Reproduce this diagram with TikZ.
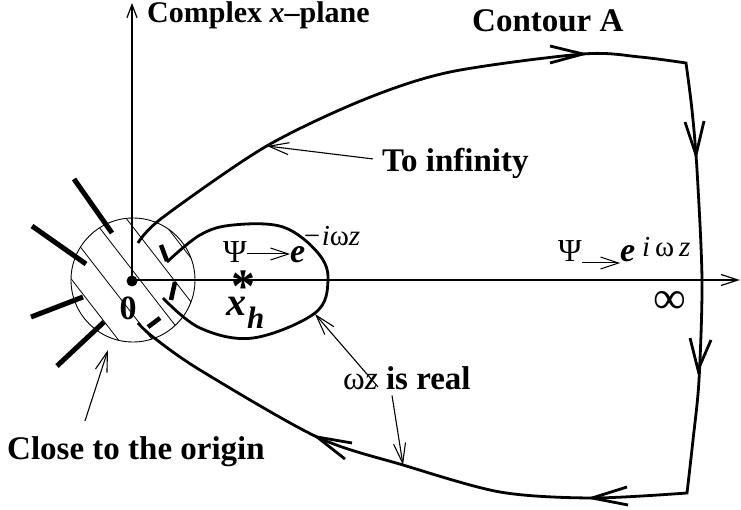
\documentclass[tikz,border=0pt]{standalone}
\usepackage{fontspec}
\setmainfont{Liberation Serif}
\usetikzlibrary{arrows.meta}
\begin{document}
\begin{tikzpicture}[x=1pt,y=-1pt,
  contour/.style={line width=2.8pt, line join=miter},
  vhead/.style={line width=2.8pt, line join=miter, line cap=butt},
  ray/.style={line width=5pt},
  tickbar/.style={line width=4.5pt},
  axis/.style={line width=1.2pt},
  hatch/.style={line width=0.8pt},
  ptr/.style={line width=1.1pt, -{Straight Barb[length=20pt,width=12pt,line width=1.1pt]}},
  smallptr/.style={line width=1pt, -{Straight Barb[length=18pt,width=12pt,line width=1pt]}},
  lab/.style={font=\fontsize{33}{36}\selectfont\bfseries, inner sep=0pt, anchor=base west},
  txt/.style={inner sep=0pt, anchor=base west},
]
\useasboundingbox (0,0) rectangle (741,510);

% axes
\coordinate (O) at (132,280);
\coordinate (ytip) at (132,3);
\coordinate (xtip) at (740,280);
\draw[axis, -{Straight Barb[length=13pt,width=10pt,line width=1.2pt]}] (O) -- (ytip);
\draw[axis, -{Straight Barb[length=17pt,width=11pt,line width=1.2pt]}] (O) -- (xtip);

% circle with hatching
\coordinate (C) at (133,280);
\begin{scope}
  \clip (C) circle[radius=62];
  \foreach \x in {72,106,140,174,208}
    \draw[hatch] (\x-62,200) -- (\x+62,360);
\end{scope}
\draw[line width=0.9pt] (C) circle[radius=62];
\fill (132,281) circle[radius=5.5];

% thick rays
\draw[ray] (74,179) -- (112,233);
\draw[ray] (32,226) -- (86,264);
\draw[ray] (31,317) -- (83,297);
\draw[ray] (57,366) -- (104,322);

% inner thick marks
\draw[tickbar] (161,245) -- (167,261);
\draw[tickbar] (175,282) -- (171,300);
\draw[tickbar] (160,318) -- (148,327);

% inner loop
\draw[contour] plot[smooth, tension=0.6] coordinates {(167,262) (200,235) (233,225) (283,227) (318,253) (328,280) (315,313) (253,338) (200,328) (163,298)};

% big contour
\draw[contour] plot[smooth] coordinates {(138,243) (162,218) (265,147) (363,100) (450,72) (583,54) (640,57) (686,63)}
  -- plot[smooth] coordinates {(686,63) (692,110) (697,170) (702,280) (699,380) (693,440) (687,493)}
  -- plot[smooth] coordinates {(687,493) (592,498) (500,492) (403,465) (317,437) (200,370) (153,337) (138,323)};

% contour arrowheads
\draw[vhead] (550,46) -- (583,54) -- (550,63);
\draw[vhead] (685,122) -- (696,155) -- (704,121);
\draw[vhead] (690,338) -- (698,370) -- (711,340);
\draw[vhead] (627,487) -- (592,498) -- (628,505);
\draw[vhead] (352,443) -- (317,437) -- (345,459);

% labels
\node[lab, font=\fontsize{30}{32}\selectfont\bfseries] (cx) at (147,23) {Complex \textit{x}–plane};
\node[lab] (ca) at (472,32) {Contour A};
\node[lab] (toinf) at (382,172) {To infinity};
\node[lab] (close) at (7,459) {Close to the origin};
\node[lab] (real) at (343,389) {{\mdseries ω\textit{z}} is real};

% pointers
\coordinate (tA) at (267,146);
\coordinate (tB) at (315,314);
\coordinate (tC) at (403,465);
\coordinate (tD) at (108,350);
\draw[ptr] ([xshift=-9pt,yshift=5pt]toinf.west) -- (tA);
\draw[ptr] ([xshift=35pt,yshift=-21pt]real.north west) -- (tB);
\draw[ptr] ([xshift=49pt,yshift=-6pt]real.south west) -- (tC);
\draw[ptr] ([xshift=78pt,yshift=15pt]close.north west) -- (tD);

% inner formula
\node[txt, font=\fontsize{32}{34}\selectfont] (psiA) at (223,263) {Ψ};
\node[txt, font=\fontsize{34}{36}\selectfont\bfseries\itshape] (eA) at (290,263) {e};
\node[txt, font=\fontsize{29}{30}\selectfont\itshape] (exA) at (302,246) {−i{\upshape ω}z};
\draw[smallptr] (psiA.east |- 0,254) -- (eA.west |- 0,254);

% right formula
\node[txt, font=\fontsize{32}{34}\selectfont] (psiB) at (558,262) {Ψ};
\node[txt, font=\fontsize{34}{36}\selectfont\bfseries\itshape] (eB) at (620,262) {e};
\node[txt, font=\fontsize{29}{30}\selectfont\itshape] (exB) at (642,257) {i\,{\upshape ω}\,z};
\draw[smallptr] (psiB.east |- 0,263) -- (eB.west |- 0,263);

% infinity, zero, x_h
\node[font=\fontsize{46}{46}\selectfont, inner sep=0pt] (inf) at (670,302) {∞};
\node[font=\fontsize{34}{34}\selectfont\bfseries, inner sep=0pt] (zero) at (128,308) {0};
\node[font=\fontsize{48}{48}\selectfont\bfseries, inner sep=0pt, anchor=base] (ast) at (243,303) {*};
\node[txt, font=\fontsize{40}{40}\selectfont\bfseries\itshape] (xh) at (226,316) {x};
\node[txt, font=\fontsize{31}{31}\selectfont\bfseries\itshape] (hsub) at (247,328) {h};
\end{tikzpicture}
\end{document}
